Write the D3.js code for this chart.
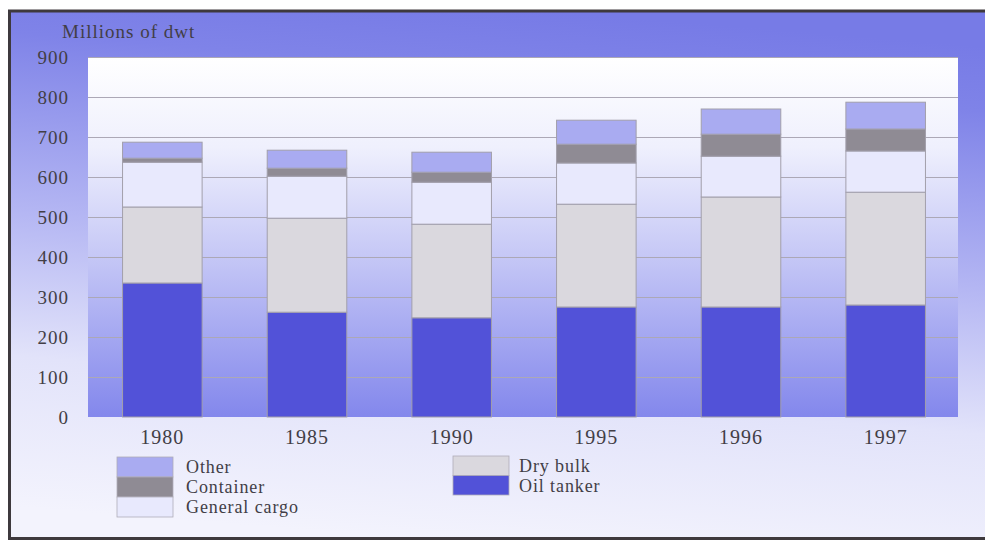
<!DOCTYPE html>
<html>
<head>
<meta charset="utf-8">
<script src="https://cdn.jsdelivr.net/npm/d3@7"></script>
<style>
  body { margin: 0; background: #fff; }
  text { font-family: "Liberation Serif", "DejaVu Serif", serif; fill: #423e46; }
</style>
</head>
<body>
<div id="chart"></div>
<script>
var years = ['1980', '1985', '1990', '1995', '1996', '1997'];
var oilTanker = [335, 262, 248, 275, 275, 280];
var dryBulk = [190, 235, 234, 257, 275, 282];
var generalCargo = [112, 105, 105, 103, 102, 103];
var container = [10, 20, 25, 47, 55, 55];
var other = [40, 45, 50, 60, 63, 67];
var yTicks = [0, 100, 200, 300, 400, 500, 600, 700, 800, 900];

// bottom-up stack order
var seriesNames = ['Oil tanker', 'Dry bulk', 'General cargo', 'Container', 'Other'];
var seriesValues = [oilTanker, dryBulk, generalCargo, container, other];
var colors = ['#5252d8', '#dad8de', '#e8e9fd', '#8f8b94', '#a9abf1'];

var width = 985, height = 541;
var plot = {left: 88, right: 958, top: 57, bottom: 417};

var svg = d3.select('#chart').append('svg')
  .attr('width', width)
  .attr('height', height);

var defs = svg.append('defs');
var bgGrad = defs.append('linearGradient').attr('id', 'bg')
  .attr('x1', 0.55).attr('y1', 0).attr('x2', 0.4).attr('y2', 1);
[[0, '#777be6'], [0.12, '#7f83e8'], [0.45, '#b4b6f3'], [0.72, '#e2e3fa'], [1, '#f3f3fd']].forEach(function (s) {
  bgGrad.append('stop').attr('offset', s[0]).attr('stop-color', s[1]);
});
var plotGrad = defs.append('linearGradient').attr('id', 'plotbg')
  .attr('x1', 0).attr('y1', 0).attr('x2', 0).attr('y2', 1);
[[0, '#ffffff'], [0.25, '#eff0fd'], [0.55, '#c6c8f6'], [1, '#8387ec']].forEach(function (s) {
  plotGrad.append('stop').attr('offset', s[0]).attr('stop-color', s[1]);
});

// frame
svg.append('rect')
  .attr('x', 9).attr('y', 11).attr('width', width - 9).attr('height', 527)
  .attr('fill', 'url(#bg)');
svg.append('path')
  .attr('d', 'M' + width + ',11 H9.5 V538.5 H' + width)
  .attr('fill', 'none').attr('stroke', '#3e393d').attr('stroke-width', 3);

var x = d3.scaleBand().domain(years).range([90, plot.right]).paddingInner(0.45).paddingOuter(0.225);
var y = d3.scaleLinear().domain([0, 900]).range([plot.bottom, plot.top]);

svg.append('rect')
  .attr('x', plot.left).attr('y', plot.top)
  .attr('width', plot.right - plot.left).attr('height', plot.bottom - plot.top)
  .attr('fill', 'url(#plotbg)');

// gridlines
svg.append('g').selectAll('line').data(yTicks.slice(1)).enter().append('line')
  .attr('x1', plot.left).attr('x2', plot.right)
  .attr('y1', function (d) { return y(d) + 0.5; })
  .attr('y2', function (d) { return y(d) + 0.5; })
  .attr('stroke', '#aca8b6').attr('stroke-width', 1);

// stacked bars
var rows = years.map(function (yr, i) {
  var r = {year: yr};
  seriesNames.forEach(function (n, k) { r[n] = seriesValues[k][i]; });
  return r;
});
var stacked = d3.stack().keys(seriesNames)(rows);

svg.append('g').selectAll('g').data(stacked).enter().append('g')
  .attr('fill', function (d, i) { return colors[i]; })
  .selectAll('rect').data(function (d) { return d; }).enter().append('rect')
  .attr('x', function (d) { return x(d.data.year); })
  .attr('width', x.bandwidth())
  .attr('y', function (d) { return y(d[1]); })
  .attr('height', function (d) { return y(d[0]) - y(d[1]); })
  .attr('stroke', '#a29fab').attr('stroke-width', 1);

// y axis
var yAxis = svg.append('g')
  .attr('transform', 'translate(' + (plot.left - 20) + ',0)')
  .call(d3.axisLeft(y).tickValues(yTicks).tickSize(0).tickPadding(0));
yAxis.select('.domain').remove();
yAxis.selectAll('text').attr('font-size', 19).attr('letter-spacing', 1)
  .attr('dx', 1)
  .style('font-family', '"Liberation Serif", serif').attr('fill', '#423e46');

svg.append('text')
  .attr('x', 62).attr('y', 38)
  .attr('font-size', 19).attr('letter-spacing', 1)
  .text('Millions of dwt');

// x axis
var xAxis = svg.append('g')
  .attr('transform', 'translate(0,' + (plot.bottom + 13) + ')')
  .call(d3.axisBottom(x).tickSize(0).tickPadding(0));
xAxis.select('.domain').remove();
xAxis.selectAll('text').attr('font-size', 20).attr('letter-spacing', 1)
  .style('font-family', '"Liberation Serif", serif').attr('fill', '#423e46');

// legend
var legendCols = [
  {x: 117, tx: 186, items: ['Other', 'Container', 'General cargo'], y0: 457, h: 20},
  {x: 453, tx: 519, items: ['Dry bulk', 'Oil tanker'], y0: 456, h: 19.5}
];
legendCols.forEach(function (col) {
  var g = svg.append('g');
  col.items.forEach(function (name, i) {
    var k = seriesNames.indexOf(name);
    g.append('rect')
      .attr('x', col.x).attr('y', col.y0 + i * col.h)
      .attr('width', 56).attr('height', col.h)
      .attr('fill', colors[k]).attr('stroke', '#b0adb8').attr('stroke-width', 0.8);
    g.append('text')
      .attr('x', col.tx).attr('y', col.y0 + i * col.h + 16)
      .attr('font-size', 18).attr('letter-spacing', 0.9)
      .text(name);
  });
});
</script>
</body>
</html>
